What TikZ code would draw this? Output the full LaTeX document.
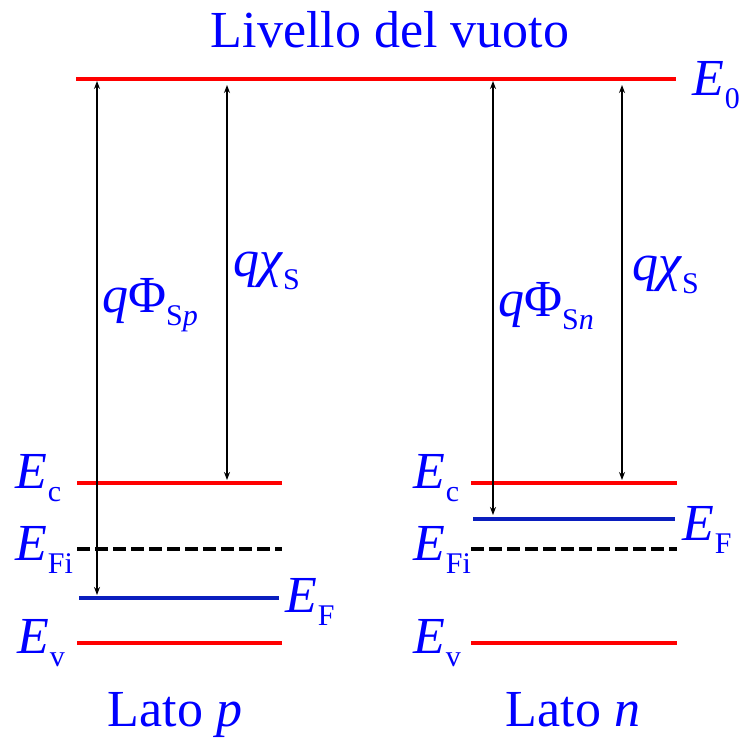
\documentclass[tikz,border=0pt]{standalone}
\usepackage{fontspec}
\setmainfont{Liberation Serif}
\usetikzlibrary{arrows.meta}
\definecolor{fermiblue}{RGB}{10,30,190}
\newcommand{\lsub}[1]{\raisebox{-13pt}{\fontsize{30}{30}\selectfont #1}}
\newcommand{\lev}[1]{\textit{E}\kern1pt\lsub{#1}}

\begin{document}
\begin{tikzpicture}[x=1pt,y=-1pt,
    lbl/.style={inner sep=0pt,anchor=base west,text=blue,font=\fontsize{52}{60}\selectfont},
    band/.style={red,line width=3.5pt},
    fermi/.style={fermiblue,line width=3.5pt},
    intr/.style={black,line width=3.5pt,dash pattern=on 13pt off 5pt},
    gap/.style={{Stealth[length=8pt,width=6pt]}-{Stealth[length=8pt,width=6pt]},line width=1.4pt}]
  \useasboundingbox (0,0) rectangle (740,740);
  % vacuum level
  \node[lbl,anchor=base] (title) at (390,47) {Livello del vuoto};
  \draw[band] (76,79) -- (676,79);
  \node[lbl] (E0) at (692,95) {\lev{0}};
  % side p
  \draw[band] (77,483) -- (282,483);
  \draw[intr] (77,549) -- (282,549);
  \draw[fermi] (79,598) -- (279,598);
  \draw[band] (77,643) -- (282,643);
  \node[lbl] (Ecp) at (15,488) {\lev{c}};
  \node[lbl] (EFip) at (15,560) {\lev{Fi}};
  \node[lbl] (Evp) at (17,653) {\lev{v}};
  \node[lbl] (EFp) at (285,612) {\lev{F}};
  \coordinate (phip top) at (97,81);
  \coordinate (phip bot) at (97,595);
  \coordinate (chip top) at (227,85);
  \coordinate (chip bot) at (227,480);
  \draw[gap] (phip top) -- (phip bot);
  \draw[gap] (chip top) -- (chip bot);
  \node[lbl] (phip) at (102,312) {\textit{q}Φ\lsub{S\textit{p}}};
  \node[lbl] (chip) at (233,276) {\textit{qχ}\lsub{S}};
  \node[lbl,anchor=base] (latop) at (175,726) {Lato \textit{p}};
  % side n
  \draw[band] (471,483) -- (677,483);
  \draw[fermi] (473,519) -- (675,519);
  \draw[intr] (471,549) -- (677,549);
  \draw[band] (471,643) -- (677,643);
  \node[lbl] (Ecn) at (413,488) {\lev{c}};
  \node[lbl] (EFin) at (413,560) {\lev{Fi}};
  \node[lbl] (Evn) at (413,653) {\lev{v}};
  \node[lbl] (EFn) at (682,540) {\lev{F}};
  \coordinate (phin top) at (493,81);
  \coordinate (phin bot) at (493,515);
  \coordinate (chin top) at (622,85);
  \coordinate (chin bot) at (622,480);
  \draw[gap] (phin top) -- (phin bot);
  \draw[gap] (chin top) -- (chin bot);
  \node[lbl] (phin) at (498,316) {\textit{q}Φ\lsub{S\textit{n}}};
  \node[lbl] (chin) at (632,280) {\textit{qχ}\lsub{S}};
  \node[lbl,anchor=base] (laton) at (573,726) {Lato \textit{n}};
\end{tikzpicture}
\end{document}
